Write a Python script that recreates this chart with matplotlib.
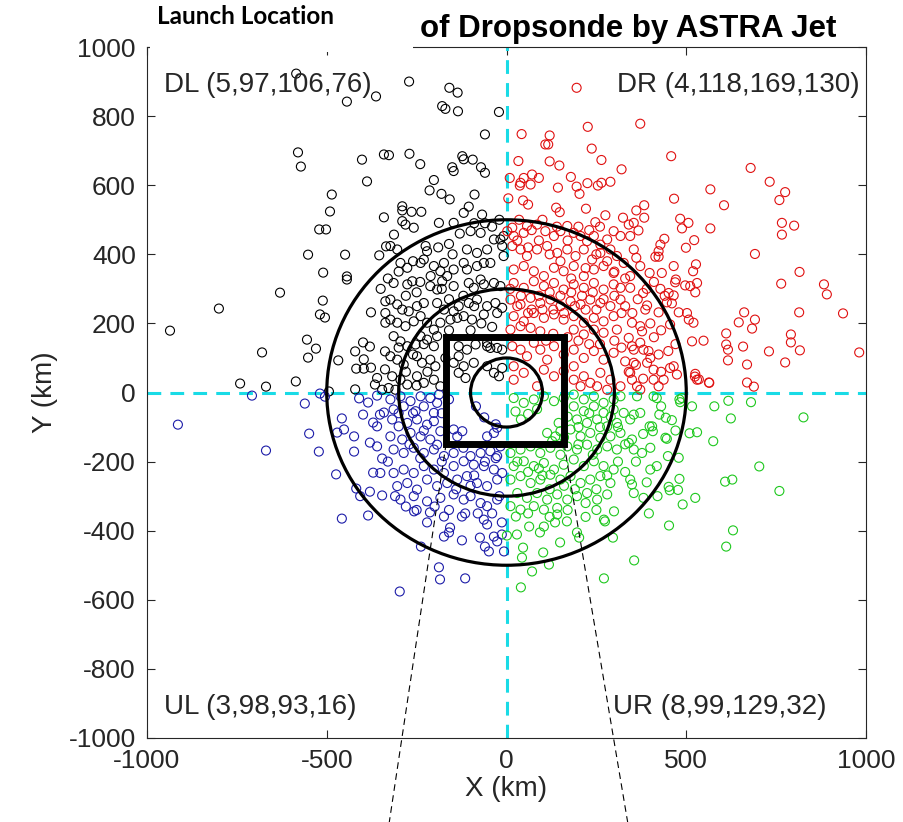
import numpy as np
import matplotlib
matplotlib.use("Agg")
import matplotlib.pyplot as plt
from matplotlib.patches import Circle, Rectangle

# dropsonde landing points (km), one list per quadrant
dl_pts = [  # upper left, black
    (-585, 923), (-444, 842), (-363, 857), (-580, 695), (-572, 654), (-402, 674), (-341, 689),
    (-388, 611), (-486, 573), (-491, 524), (-521, 472), (-502, 472), (-552, 399), (-449, 399),
    (-354, 397), (-341, 507), (-335, 423), (-510, 347), (-444, 336),
    (-630, 289), (-800, 243), (-936, 179), (-511, 266), (-519, 226), (-505, 217), (-377, 232),
    (-555, 153), (-530, 127), (-552, 101), (-680, 116), (-468, 93), (-399, 145), (-380, 133),
    (-421, 119), (-397, 96), (-418, 69), (-397, 69), (-377, 72), (-338, 119), (-338, 67),
    (-741, 26), (-669, 17), (-586, 32), (-421, 9), (-366, 23), (-494, 3), (-444, 327),
    (-337, 264), (-337, 230), (-337, 202), (-360, 42), (-346, 8),
    (-271, 900), (-159, 882), (-136, 868), (-179, 829), (-170, 821), (-135, 814), (-21, 812),
    (-60, 747), (-327, 687), (-270, 691), (-240, 661), (-123, 684), (-119, 675), (-94, 674),
    (-151, 652), (-147, 641), (-71, 652), (-60, 636), (-202, 615), (-214, 585), (-181, 575),
    (-158, 559), (-89, 573), (-290, 539), (-290, 527), (-264, 523), (-237, 523), (-119, 520),
    (-105, 538), (-68, 515), (-290, 496), (-281, 486), (-258, 477), (-188, 491), (-147, 491),
    (-313, 457), (-323, 424), (-304, 414), (-225, 424), (-221, 409), (-230, 385), (-295, 375),
    (-276, 361), (-239, 375), (-202, 366), (-174, 375), (-165, 337), (-147, 356), (-119, 375),
    (-110, 414), (-82, 404), (-54, 414), (-45, 375), (-35, 443), (-17, 443), (-12, 424),
    (-8, 395), (-8, 453), (-72, 462), (-100, 467), (-211, 337), (-184, 351), (-110, 356),
    (-82, 366), (-63, 375), (-72, 327),
    (-314, 317), (-276, 313), (-262, 322), (-212, 308), (-193, 298), (-179, 322), (-147, 308),
    (-105, 317), (-91, 303), (-63, 313), (-35, 317), (-17, 308), (-323, 269), (-304, 255),
    (-290, 240), (-272, 235), (-249, 250), (-230, 259), (-193, 259), (-174, 240), (-147, 235),
    (-133, 250), (-105, 259), (-82, 269), (-54, 250), (-31, 259), (-12, 245), (-323, 211),
    (-304, 202), (-281, 192), (-258, 206), (-239, 221), (-221, 202), (-202, 182), (-184, 202),
    (-156, 211), (-137, 216), (-119, 221), (-96, 211), (-63, 226), (-26, 230), (-314, 163),
    (-295, 148), (-276, 134), (-253, 139), (-239, 163), (-221, 153), (-202, 134), (-193, 163),
    (-133, 134), (-110, 124), (-86, 139), (-54, 144), (-26, 129), (-12, 124), (-323, 105),
    (-304, 95), (-286, 81), (-249, 105), (-235, 86), (-212, 95), (-198, 76), (-147, 86),
    (-119, 76), (-91, 86), (-54, 76), (-35, 57), (-12, 71), (-318, 47), (-295, 37), (-276, 23),
    (-249, 47), (-230, 28), (-202, 37), (-184, 18), (-133, 57), (-114, 42), (-21, 47),
    (-328, 13), (-309, 8), (-54, 134), (-45, 129), (-133, 105),
    (-330, 330), (-350, 300), (-300, 350), (-260, 380), (-190, 420), (-160, 430), (-130, 460),
    (-90, 490), (-40, 480), (-20, 500), (-60, 490), (-150, 400), (-180, 300), (-250, 290),
    (-280, 280), (-240, 320), (-160, 270), (-120, 280), (-90, 250), (-70, 200), (-40, 190),
    (-100, 180), (-160, 180), (-230, 140), (-260, 110), (-280, 60), (-250, 20), (-220, 60),
    (-170, 100), (-300, 130),
]
dr_pts = [  # upper right, red
    (195, 882), (226, 769), (42, 748), (120, 744), (108, 718), (116, 718), (237, 706), (33, 670),
    (120, 669), (147, 657), (264, 673), (320, 646), (9, 621), (39, 607), (48, 621), (71, 631),
    (90, 621), (67, 602), (37, 599), (179, 624), (225, 606), (254, 599), (264, 607), (289, 610),
    (143, 593), (195, 596), (203, 575), (5, 562), (46, 556), (60, 544), (138, 535), (148, 522),
    (221, 532), (275, 513), (247, 493), (324, 506),
    (16, 477), (2, 467), (20, 453), (48, 462), (57, 482), (85, 486), (108, 467), (132, 453),
    (150, 467), (169, 482), (187, 462), (206, 453), (224, 438), (243, 453), (261, 428), (280, 443),
    (298, 467), (317, 453), (16, 424), (39, 414), (57, 395), (85, 414), (113, 424), (141, 404),
    (169, 414), (192, 395), (215, 414), (238, 385), (261, 404), (289, 414), (307, 395), (20, 356),
    (48, 366), (76, 351), (104, 337), (132, 361), (159, 351), (187, 366), (215, 337), (243, 356),
    (270, 366), (298, 346), (326, 375),
    (372, 778), (458, 684), (679, 650), (732, 610), (775, 580), (759, 557), (567, 588), (605, 542),
    (466, 561), (766, 491), (800, 483), (766, 457), (691, 401), (815, 349), (567, 475),
    (383, 542), (361, 527), (383, 506), (367, 469), (354, 491), (340, 486), (439, 445), (428, 428),
    (423, 409), (414, 393), (423, 393), (361, 390), (398, 346), (432, 346), (471, 327), (483, 503),
    (506, 491), (488, 475), (522, 441), (499, 419), (527, 371), (519, 351), (344, 453), (354, 414),
    (372, 366), (344, 337), (465, 366),
    (20, 317), (48, 303), (76, 322), (104, 308), (132, 317), (159, 298), (187, 313), (215, 303),
    (243, 317), (270, 298), (298, 313), (317, 303), (11, 269), (39, 255), (67, 274), (94, 259),
    (122, 269), (150, 250), (178, 264), (206, 255), (233, 269), (261, 259), (289, 250), (317, 269),
    (20, 221), (48, 206), (76, 230), (104, 216), (132, 226), (159, 211), (187, 221), (215, 202),
    (243, 216), (270, 206), (298, 221), (11, 182), (39, 192), (67, 187), (94, 177), (187, 182),
    (215, 168), (243, 182), (270, 173), (307, 182), (16, 134), (39, 124), (57, 105), (76, 144),
    (94, 124), (113, 95), (132, 134), (159, 110), (187, 124), (215, 100), (243, 120), (270, 95),
    (298, 115), (20, 76), (48, 57), (104, 66), (132, 47), (159, 62), (187, 76), (215, 47),
    (233, 28), (261, 57), (289, 37), (317, 18), (20, 37), (85, 18), (187, 37), (206, 18),
    (252, 18), (280, 8),
    (469, 319), (497, 310), (511, 308), (530, 317), (525, 290), (428, 300), (451, 288), (465, 281),
    (380, 288), (344, 303), (391, 252), (386, 240), (423, 232), (446, 261), (460, 258), (479, 232),
    (502, 230), (507, 211), (520, 202), (455, 197), (349, 202), (372, 192), (377, 177), (340, 158),
    (349, 134), (372, 144), (354, 124), (381, 124), (395, 120), (423, 110), (455, 71), (474, 52),
    (465, 76), (437, 37), (409, 37), (423, 18), (363, 18), (372, 8), (349, 37), (525, 54),
    (530, 37), (564, 28), (548, 150), (516, 148), (344, 57), (391, 86), (409, 66), (354, 86),
    (764, 315), (883, 313), (891, 284), (814, 232), (936, 229), (981, 116), (661, 232), (646, 203),
    (691, 211), (683, 185), (611, 171), (611, 139), (616, 124), (658, 133), (616, 93), (669, 81),
    (730, 119), (791, 168), (791, 145), (816, 122), (775, 87), (669, 29), (688, 17), (563, 29),
    (535, 38), (524, 46),
    (330, 250), (350, 230), (365, 270), (400, 200), (410, 160), (430, 180), (390, 300), (410, 320),
    (440, 280), (300, 350), (330, 330), (280, 380), (250, 400), (220, 360), (180, 330), (150, 380),
    (120, 400), (90, 440), (60, 420), (30, 440), (170, 440), (200, 480), (230, 470), (260, 480),
    (140, 480), (100, 500), (70, 470), (35, 500), (300, 150), (320, 130), (330, 90), (340, 60),
    (360, 80), (380, 40), (400, 100), (430, 60), (450, 120), (470, 140), (200, 150), (230, 140),
    (260, 140), (170, 160), (130, 170), (110, 150), (30, 250), (60, 230), (90, 280), (120, 290),
    (150, 280), (180, 290), (210, 280), (240, 290), (270, 270), (300, 280), (320, 230), (250, 240),
    (220, 240), (190, 250), (160, 230), (130, 240), (100, 240), (70, 240), (40, 280), (10, 300),
]
ul_pts = [  # lower left, blue
    (-708, -9), (-519, -3), (-505, -12), (-914, -93), (-561, -32), (-410, -17), (-385, -29),
    (-360, -9), (-399, -64), (-458, -75), (-471, -116), (-452, -107), (-424, -127), (-549, -119),
    (-522, -171), (-669, -168), (-424, -171), (-380, -145), (-360, -156), (-346, -191), (-371, -87),
    (-360, -98), (-352, -64), (-341, -58), (-474, -237), (-371, -232), (-418, -278), (-380, -287),
    (-346, -298), (-351, -233), (-407, -300), (-458, -365), (-385, -356),
    (-297, -576), (-188, -506), (-185, -541), (-115, -538), (-238, -446), (-221, -376), (-174, -417),
    (-160, -405), (-157, -391), (-124, -428), (-124, -359), (-115, -350), (-74, -420), (-63, -368),
    (-54, -382), (-60, -446), (-49, -460), (-35, -417), (-26, -431), (-13, -376), (-13, -411),
    (-7, -460), (-174, -359), (-213, -347), (-257, -344),
    (-323, -20), (-295, -11), (-267, -25), (-239, -11), (-212, -16), (-188, -6), (-314, -49),
    (-286, -40), (-253, -54), (-230, -40), (-202, -59), (-193, -30), (-318, -78), (-300, -98),
    (-276, -88), (-249, -78), (-221, -93), (-202, -83), (-184, -112), (-323, -127), (-290, -136),
    (-267, -117), (-239, -127), (-212, -136), (-193, -151), (-314, -165), (-286, -175), (-258, -160),
    (-230, -175), (-202, -165), (-174, -184), (-147, -175), (-119, -199), (-100, -184), (-72, -175),
    (-45, -170), (-26, -184), (-17, -156), (-91, -209), (-63, -213), (-35, -223), (-147, -213),
    (-174, -233), (-202, -223), (-230, -213), (-258, -233), (-286, -223), (-314, -233), (-304, -271),
    (-276, -262), (-249, -281), (-221, -252), (-193, -271), (-165, -262), (-137, -252), (-110, -242),
    (-82, -262), (-54, -271), (-26, -252), (-12, -233), (-295, -310), (-258, -300), (-221, -315),
    (-184, -305), (-147, -295), (-119, -310), (-72, -320), (-54, -329), (-26, -310), (-123, -112),
    (-147, -107), (-137, -127), (-35, -117), (-26, -102), (-54, -127), (-62, -72), (-30, -92),
    (-85, -40),
    (-330, -200), (-310, -300), (-280, -330), (-250, -340), (-200, -330), (-160, -340),
    (-100, -300), (-80, -350), (-40, -350), (-20, -300), (-100, -270), (-140, -280), (-180, -200),
    (-240, -190), (-270, -150), (-300, -60), (-260, -60), (-230, -110), (-180, -60), (-160, -20),
    (-120, -160), (-60, -200), (-30, -190), (-90, -240),
]
ur_pts = [  # lower right, green
    (20, -16), (48, -30), (76, -20), (104, -11), (132, -25), (159, -16), (187, -6), (215, -20),
    (243, -11), (270, -30), (298, -20), (317, -11), (187, -40), (215, -54), (243, -40), (270, -59),
    (298, -49), (326, -59), (196, -78), (224, -88), (252, -78), (280, -98), (307, -88), (178, -107),
    (206, -127), (233, -117), (261, -131), (289, -127), (317, -117), (169, -156), (196, -165),
    (224, -151), (252, -165), (280, -156), (307, -165), (11, -175), (39, -165), (67, -156),
    (94, -175), (122, -160), (150, -180), (20, -213), (48, -199), (76, -213), (104, -204),
    (132, -223), (159, -209), (187, -194), (215, -213), (243, -199), (270, -213), (298, -223),
    (11, -252), (39, -242), (67, -262), (94, -252), (122, -238), (150, -252), (178, -242),
    (206, -262), (233, -252), (261, -242), (289, -262), (30, -291), (57, -305), (85, -291),
    (113, -310), (141, -295), (169, -310), (196, -300), (224, -291), (252, -310), (280, -295),
    (11, -329), (39, -339), (76, -329), (104, -339), (141, -334), (136, -127), (150, -112),
    (127, -141), (113, -117), (145, -88), (60, -62), (85, -48), (40, -78), (25, -55),
    (363, -11), (409, -11), (418, -16), (372, -59), (354, -64), (344, -78), (443, -73), (425, -64),
    (405, -98), (398, -98), (407, -112), (442, -131), (446, -134), (377, -175), (354, -165),
    (418, -213), (400, -223), (349, -136), (340, -146), (479, -189), (449, -184), (483, -28),
    (481, -20), (488, -16), (344, -252), (349, -266), (381, -305), (354, -291), (451, -273),
    (454, -283), (477, -282), (481, -250), (490, -324), (525, -305), (509, -118), (530, -115),
    (516, -40), (575, -141), (578, -40), (617, -24), (680, -28), (624, -75), (826, -72),
    (703, -214), (608, -258), (628, -252), (759, -285),
    (40, -564), (71, -518), (118, -498), (271, -538), (43, -478), (46, -449), (102, -463),
    (149, -434), (29, -411), (1, -414), (63, -388), (93, -405), (104, -388), (135, -376),
    (141, -353), (168, -373), (202, -420), (196, -405), (26, -359), (274, -373), (271, -368),
    (296, -420), (299, -344), (355, -486), (452, -385), (396, -350), (611, -446), (630, -399),
    (30, -200), (60, -230), (90, -220), (120, -280), (160, -270), (190, -280), (220, -320),
    (250, -280), (280, -240), (310, -200), (330, -230), (360, -200), (380, -120), (330, -150),
    (310, -100), (290, -70), (260, -100), (230, -60), (200, -100), (170, -70), (160, -130),
    (200, -150), (240, -180), (100, -240), (60, -350), (120, -360), (170, -340), (220, -360),
    (250, -340), (390, -260), (420, -300), (400, -160), (430, -40), (460, -80), (470, -110),
]

quad_labels = ["DL (5,97,106,76)", "DR (4,118,169,130)", "UL (3,98,93,16)", "UR (8,99,129,32)"]
ring_radii = [100, 300, 500]
box_x = [-168, 160]
box_y = [-148, 160]
# launch-cone guide lines (start at box corners, run off the bottom of the axes)
cone_left = [(-168, -148), (-327, -1250)]
cone_right = [(160, -148), (338, -1250)]

txt = '#262626'
plt.rcParams['font.family'] = ['Liberation Sans', 'DejaVu Sans']
plt.rcParams['axes.unicode_minus'] = False

fig = plt.figure(figsize=(9.04, 8.22), dpi=100)
ax = fig.add_axes([0.1626, 0.1022, 0.7954, 0.8406])

mk = dict(s=42, facecolors='none', linewidths=0.8, zorder=3)
for pts, col in [(dl_pts, 'black'), (dr_pts, '#e01010'), (ul_pts, '#1c1ca8'), (ur_pts, '#1ec81e')]:
    a = np.array(pts)
    ax.scatter(a[:, 0], a[:, 1], edgecolors=col, **mk)

ax.axvline(0, color='#19dbe6', lw=2.2, ls=(0, (4.5, 3)), zorder=2)
ax.axhline(0, color='#19dbe6', lw=2.2, ls=(0, (4.5, 3)), zorder=2)

for r in ring_radii:
    ax.add_patch(Circle((0, 0), r, fill=False, ec='black', lw=2.3, zorder=4))
ax.add_patch(Rectangle((box_x[0], box_y[0]), box_x[1] - box_x[0], box_y[1] - box_y[0],
                       fill=False, ec='black', lw=5, zorder=4))

for seg in (cone_left, cone_right):
    xs, ys = zip(*seg)
    ax.plot(xs, ys, color='black', lw=0.8, ls=(0, (6, 4)), clip_on=False, zorder=4)

ax.text(-953, 891, quad_labels[0], fontsize=20, color=txt, va='center', ha='left', zorder=5)
ax.text(983, 891, quad_labels[1], fontsize=20, color=txt, va='center', ha='right', zorder=5)
ax.text(-953, -909, quad_labels[2], fontsize=20, color=txt, va='center', ha='left', zorder=5)
ax.text(296, -909, quad_labels[3], fontsize=20, color=txt, va='center', ha='left', zorder=5)

ax.set_xlim(-1000, 1000)
ax.set_ylim(-1000, 1000)
ax.set_xticks(range(-1000, 1001, 500))
ax.set_yticks(range(-1000, 1001, 200))
ax.tick_params(direction='in', top=True, right=True, length=6, width=0.8,
               labelsize=19, colors=txt, pad=8)
for sp in ax.spines.values():
    sp.set_color(txt)
    sp.set_linewidth(0.8)
ax.set_xlabel('X (km)', fontsize=20, color=txt, labelpad=2)
ax.set_ylabel('Y (km)', fontsize=20, color=txt, labelpad=8)

# the left part of the original title is pasted over with a white box
fig.patches.append(Rectangle((150 / 904, 1 - 52 / 822), (413 - 150) / 904, 52 / 822,
                             transform=fig.transFigure, fc='white', ec='none', zorder=10))
fig.text(420 / 904, 1 - 29 / 822, 'of Dropsonde by ASTRA Jet', fontsize=22.5, fontweight='bold',
         color='black', ha='left', va='center', zorder=11)
fig.text(157 / 904, 1 - 16 / 822, 'Launch Location', fontsize=17.5, fontweight='bold',
         family=['Lato', 'DejaVu Sans'], color='black', ha='left', va='center', zorder=11)

fig.savefig('out.png', dpi=100)
